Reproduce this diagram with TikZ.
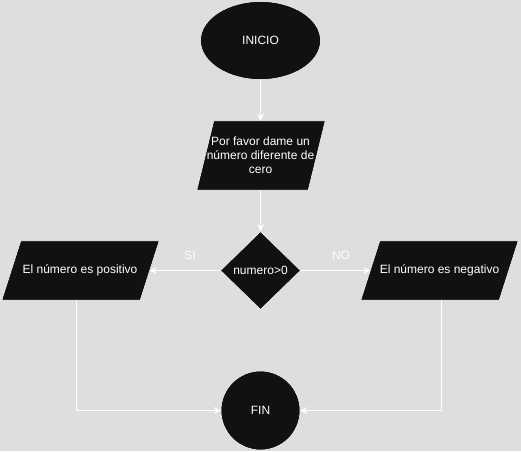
\documentclass[tikz,border=0pt]{standalone}
\usepackage{fontspec}
\setmainfont{Liberation Sans}
\usetikzlibrary{shapes.geometric,arrows.meta}
\definecolor{bgc}{RGB}{222,222,222}
\definecolor{shp}{RGB}{17,17,17}
\begin{document}
\begin{tikzpicture}[x=1pt,y=-1pt,
  every node/.style={font=\fontsize{12}{14}\selectfont, text=white},
  blk/.style={fill=shp, draw=white, line width=0.5pt, inner sep=0pt},
  pbox/.style={rectangle, inner sep=0pt},
  conn/.style={draw=white, line width=1pt, -{Stealth[length=7pt,width=7pt,inset=2.5pt]}},
  lbl/.style={text=white}]
\fill[bgc] (0,0) rectangle (521,451);
\useasboundingbox (0,0) rectangle (521,451);
\node[blk, ellipse, minimum width=120, minimum height=78] (inicio) at (260.5,40.5) {INICIO};
% parallelogram frames (named rectangle nodes, outlines drawn from their anchors)
\node[pbox, minimum width=111, minimum height=69] (leer) at (261,155.5) {};
\node[pbox, minimum width=138, minimum height=59] (pos) at (80.5,270.5) {};
\node[pbox, minimum width=138, minimum height=59] (neg) at (439.5,270.5) {};
\path[blk] ([xshift=-8.5pt]leer.south west) -- ([xshift=8.5pt]leer.north west) -- ([xshift=8.5pt]leer.north east) -- ([xshift=-8.5pt]leer.south east) -- cycle;
\path[blk] ([xshift=-9.5pt]pos.south west) -- ([xshift=9.5pt]pos.north west) -- ([xshift=9.5pt]pos.north east) -- ([xshift=-9.5pt]pos.south east) -- cycle;
\path[blk] ([xshift=-9.5pt]neg.south west) -- ([xshift=9.5pt]neg.north west) -- ([xshift=9.5pt]neg.north east) -- ([xshift=-9.5pt]neg.south east) -- cycle;
\node[align=center] (leertxt) at (260.5,155.5) {Por favor dame un\\número diferente de\\cero};
\node (postxt) at (80,270.5) {El número es positivo};
\node (negtxt) at (439.5,270.5) {El número es negativo};
\node[blk, diamond, minimum width=80, minimum height=78] (dec) at (260.5,270.5) {numero>0};
\node[blk, circle, minimum size=79] (fin) at (260.5,410.5) {FIN};
\node[lbl] (si) at (190,255) {SI};
\node[lbl] (no) at (341,255) {NO};
\draw[conn] (inicio) -- (inicio |- leer.north);
\draw[conn] (leer.south -| inicio) -- (dec);
\draw[conn] (dec) -- (pos);
\draw[conn] (dec) -- (neg);
\draw[conn] ([xshift=-4.5pt]pos.south) |- (fin.west);
\draw[conn] ([xshift=1.5pt]neg.south) |- (fin.east);
\end{tikzpicture}
\end{document}
